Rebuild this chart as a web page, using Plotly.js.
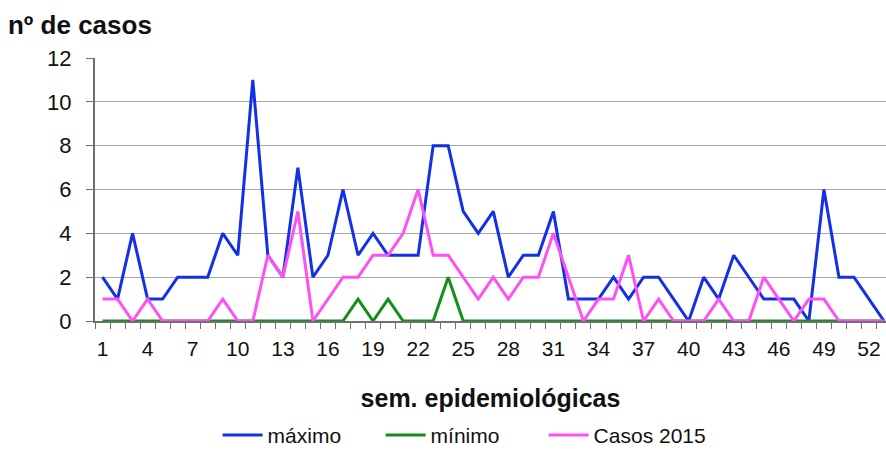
<!DOCTYPE html>
<html>
<head>
<meta charset="utf-8">
<script src="https://cdn.plot.ly/plotly-3.0.1.min.js"></script>
<style>html,body{margin:0;padding:0;background:#fff;}#chart{width:886px;height:451px;}</style>
</head>
<body>
<div id="chart"></div>
<script>
const weeks = [1,2,3,4,5,6,7,8,9,10,11,12,13,14,15,16,17,18,19,20,21,22,23,24,25,26,27,28,29,30,31,32,33,34,35,36,37,38,39,40,41,42,43,44,45,46,47,48,49,50,51,52,53];
const maximo = [2,1,4,1,1,2,2,2,4,3,11,3,2,7,2,3,6,3,4,3,3,3,8,8,5,4,5,2,3,3,5,1,1,1,2,1,2,2,1,0,2,1,3,2,1,1,1,0,6,2,2,1,0];
const minimo = [0,0,0,0,0,0,0,0,0,0,0,0,0,0,0,0,0,1,0,1,0,0,0,2,0,0,0,0,0,0,0,0,0,0,0,0,0,0,0,0,0,0,0,0,0,0,0,0,0,0,0,0,0];
const casos2015 = [1,1,0,1,0,0,0,0,1,0,0,3,2,5,0,1,2,2,3,3,4,6,3,3,2,1,2,1,2,2,4,2,0,1,1,3,0,1,0,0,0,1,0,0,2,1,0,1,1,0,0,0,0];
const tickWeeks = [1,4,7,10,13,16,19,22,25,28,31,34,37,40,43,46,49,52];
const seriesNames = ['máximo','mínimo','Casos 2015'];

const font = 'Liberation Sans, Arial, sans-serif';
const traces = [
  {x: weeks, y: maximo, name: seriesNames[0], type: 'scatter', mode: 'lines', line: {color: '#1430e6', width: 3}},
  {x: weeks, y: minimo, name: seriesNames[1], type: 'scatter', mode: 'lines', line: {color: '#10901a', width: 3}},
  {x: weeks, y: casos2015, name: seriesNames[2], type: 'scatter', mode: 'lines', line: {color: '#ff50f5', width: 3}}
];
const layout = {
  width: 886, height: 451,
  margin: {l: 95, r: 0, t: 58, b: 130, autoexpand: false},
  paper_bgcolor: '#fff', plot_bgcolor: '#fff',
  font: {family: font, size: 21, color: '#111'},
  title: {text: '<b>nº de casos</b>', xref: 'container', yref: 'container', x: 0.009, xanchor: 'left', y: 0.945, yanchor: 'middle', font: {family: font, size: 26, color: '#111'}},
  xaxis: {
    range: [0.5, 53.13], tickmode: 'array', tickvals: tickWeeks, ticktext: tickWeeks.map(String),
    ticks: '', showgrid: false, zeroline: false, showline: true, linecolor: '#707070', linewidth: 2,
    tickfont: {family: font, size: 21, color: '#111'}, ticklabelstandoff: 8, automargin: false,
    minor: {tickmode: 'linear', tick0: 0.5, dtick: 1, ticks: 'outside', ticklen: 6, tickcolor: '#707070', tickwidth: 1, showgrid: false},
    title: {text: '<b>sem. epidemiológicas</b>', standoff: 30, font: {family: font, size: 25, color: '#111'}}
  },
  yaxis: {
    range: [0, 12], tickmode: 'linear', tick0: 0, dtick: 2, ticks: 'outside', ticklen: 7, tickcolor: '#707070',
    showgrid: true, gridcolor: '#a8a8a8', gridwidth: 1, zeroline: false, showline: true, linecolor: '#707070', linewidth: 2,
    tickfont: {family: font, size: 22, color: '#111'}, ticklabelstandoff: 10, automargin: false
  },
  showlegend: true,
  legend: {orientation: 'h', x: 0.155, xanchor: 'left', y: -0.435, yanchor: 'middle', entrywidth: 108, entrywidthmode: 'pixels', font: {family: font, size: 21, color: '#111'}, itemwidth: 40, bgcolor: 'rgba(0,0,0,0)'}
};
Plotly.newPlot('chart', traces, layout, {displayModeBar: false, responsive: false});
</script>
</body>
</html>
